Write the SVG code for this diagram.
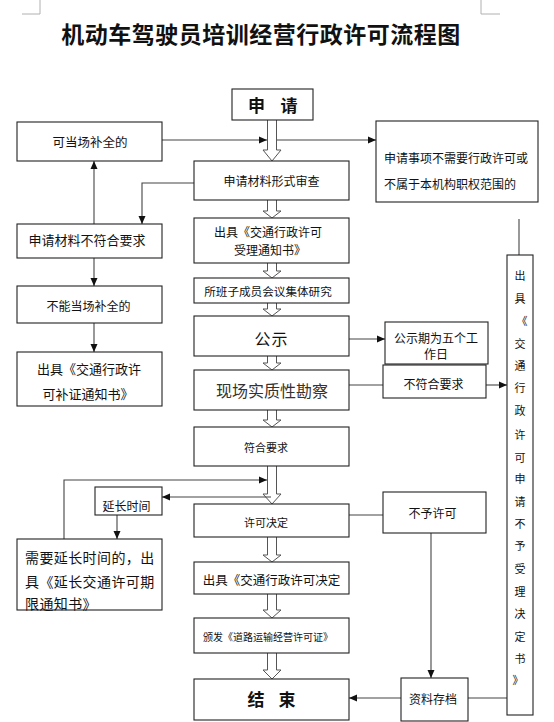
<svg xmlns="http://www.w3.org/2000/svg" width="554" height="722" viewBox="0 0 554 722">
<defs>
<marker id="ah" markerWidth="8" markerHeight="8" refX="8" refY="4" orient="auto" markerUnits="userSpaceOnUse">
<path d="M0,0.5 L8,4 L0,7.5 z" fill="#111"/>
</marker>
<style>
.box{fill:#fff;stroke:#222;stroke-width:1.1}
.t{font-family:"Noto Sans CJK SC","Noto Sans",sans-serif;font-size:12px;fill:#111;text-anchor:middle;dominant-baseline:central}
.tl{text-anchor:start}
.b{font-weight:bold;font-size:17px}
.big{font-size:16px}
.sm{font-size:10px}
.v{font-size:11px}
.ln{fill:none;stroke:#444;stroke-width:1.1}
.ar{marker-end:url(#ah)}
.ha{fill:#fff;stroke:#555;stroke-width:1}
.cm{fill:none;stroke:#b0b0b0;stroke-width:1}
</style>
</defs>
<rect width="554" height="722" fill="#fff"/>
<g id="cornermarks">
<path class="cm" d="M40,0 V14 H22 M481,0 V14 H500"/>
</g>
<text id="title" x="261" y="33" class="t" style="font-size:23px;font-weight:bold;letter-spacing:0.5px">机动车驾驶员培训经营行政许可流程图</text>

<g id="hollow-arrows">
<path class="ha" d="M267.5,120 V150 H263 L272,161 L281,150 H276.5 V120"/>
<path class="ha" d="M267.5,200 V211 H263 L272,218 L281,211 H276.5 V200"/>
<path class="ha" d="M267.5,263 V271 H263 L272,278 L281,271 H276.5 V263"/>
<path class="ha" d="M267.5,303 V309 H263 L272,316 L281,309 H276.5 V303"/>
<path class="ha" d="M267.5,356 V363 H263 L272,370 L281,363 H276.5 V356"/>
<path class="ha" d="M267.5,410 V420 H263 L272,427 L281,420 H276.5 V410"/>
<path class="ha" d="M267.5,466 V494 H263 L272,504 L281,494 H276.5 V466"/>
<path class="ha" d="M267.5,537 V555 H263 L272,562 L281,555 H276.5 V537"/>
<path class="ha" d="M267.5,594 V610 H263 L272,618 L281,610 H276.5 V594"/>
<path class="ha" d="M267.5,653 V670 H263 L272,679 L281,670 H276.5 V653"/>
</g>

<g id="connectors">
<path class="ln ar" d="M162,140 H267"/>
<path class="ln ar" d="M277,140 H376"/>
<path class="ln ar" d="M194,183 H142 V224"/>
<path class="ln ar" d="M94,224 V161"/>
<path class="ln ar" d="M94,258 V286"/>
<path class="ln ar" d="M94,323 V352"/>
<path class="ln ar" d="M349,339 H385"/>
<path class="ln" d="M349,385 H383"/>
<path class="ln ar" d="M486,385 H507"/>
<path class="ln" d="M519,219 V255"/>
<path class="ln ar" d="M64,539 V480 H267"/>
<path class="ln ar" d="M271,497 H162"/>
<path class="ln ar" d="M117,515 V539"/>
<path class="ln" d="M349,515 H383"/>
<path class="ln ar" d="M431,533 V678"/>
<path class="ln ar" d="M401,698 H349"/>
<path class="ln" d="M468,698 H507"/>
</g>

<g id="n-apply"><rect class="box" x="232" y="89" width="81" height="31"/><text class="t b" x="256.5" y="104.5">申</text><text class="t b" x="289" y="104.5">请</text></g>
<g id="n-fill-onsite"><rect class="box" x="17" y="122" width="145" height="39"/><text class="t" x="90" y="141" style="font-size:12.5px">可当场补全的</text></g>
<g id="n-not-needed"><rect class="box" x="376" y="121" width="162" height="81"/><text class="t" x="456" y="157">申请事项不需要行政许可或</text><text class="t" x="450" y="183">不属于本机构职权范围的</text></g>
<g id="n-form-review"><rect class="box" x="194" y="161" width="155" height="39"/><text class="t" x="271.5" y="180">申请材料形式审查</text></g>
<g id="n-accept-notice"><rect class="box" x="194" y="218" width="155" height="45"/><text class="t" x="268" y="231">出具《交通行政许可</text><text class="t" x="270" y="249">受理通知书》</text></g>
<g id="n-study"><rect class="box" x="194" y="278" width="155" height="25"/><text class="t" x="268" y="291" style="font-size:11.6px">所班子成员会议集体研究</text></g>
<g id="n-publicity"><rect class="box" x="194" y="316" width="155" height="40"/><text class="t big" x="271.5" y="338" style="letter-spacing:1px">公示</text></g>
<g id="n-inspect"><rect class="box" x="194" y="370" width="155" height="40"/><text class="t big" x="272" y="390" style="fill:#333">现场实质性勘察</text></g>
<g id="n-meets"><rect class="box" x="194" y="427" width="155" height="39"/><text class="t" x="266" y="447" style="font-size:11px">符合要求</text></g>
<g id="n-decision"><rect class="box" x="194" y="504" width="155" height="33"/><text class="t" x="266" y="522" style="font-size:11px">许可决定</text></g>
<g id="n-decision-doc"><rect class="box" x="194" y="562" width="155" height="32"/><text class="t" x="271.5" y="579" style="font-size:12.5px">出具《交通行政许可决定</text></g>
<g id="n-issue-license"><rect class="box" x="194" y="618" width="155" height="35"/><text class="t sm" x="268" y="636">颁发《道路运输经营许可证》</text></g>
<g id="n-end"><rect class="box" x="194" y="679" width="155" height="41"/><text class="t b" x="256" y="698">结</text><text class="t b" x="287" y="698">束</text></g>

<g id="n-not-meet"><rect class="box" x="17" y="224" width="145" height="34"/><text class="t" x="87" y="239" style="font-size:13px">申请材料不符合要求</text></g>
<g id="n-cannot-fill"><rect class="box" x="17" y="286" width="145" height="37"/><text class="t" x="88.5" y="305">不能当场补全的</text></g>
<g id="n-supplement"><rect class="box" x="17" y="352" width="145" height="54"/><text class="t" x="89" y="368" style="font-size:13px">出具《交通行政许</text><text class="t" x="88" y="393" style="font-size:13px">可补证通知书》</text></g>

<g id="n-period"><rect class="box" x="385" y="322" width="103" height="42"/><text class="t" x="436" y="337">公示期为五个工</text><text class="t" x="436" y="353">作日</text></g>
<g id="n-inspect-fail"><rect class="box" x="383" y="365" width="103" height="33"/><text class="t" x="433.5" y="383">不符合要求</text></g>
<g id="n-deny"><rect class="box" x="383" y="492" width="103" height="41"/><text class="t" x="432.5" y="512">不予许可</text></g>
<g id="n-archive"><rect class="box" x="401" y="678" width="67" height="43"/><text class="t" x="433" y="698">资料存档</text></g>

<g id="n-extend"><rect class="box" x="95" y="487" width="67" height="28"/><text class="t" x="126.5" y="505">延长时间</text></g>
<g id="n-extend-notice"><rect class="box" x="17" y="539" width="145" height="71"/><text class="t tl" x="25" y="557" style="font-size:14px;letter-spacing:0.4px">需要延长时间的，出</text><text class="t tl" x="25" y="581" style="font-size:14px;letter-spacing:0.4px">具《延长交通许可期</text><text class="t tl" x="25" y="603" style="font-size:14px;letter-spacing:0.4px">限通知书》</text></g>

<g id="n-reject-notice"><rect class="box" x="507" y="255" width="26" height="460"/>
<text class="t v" x="520" y="275">出</text>
<text class="t v" x="520" y="298">具</text>
<text class="t v" x="522" y="320">《</text>
<text class="t v" x="520" y="343">交</text>
<text class="t v" x="520" y="365">通</text>
<text class="t v" x="520" y="387">行</text>
<text class="t v" x="520" y="410">政</text>
<text class="t v" x="520" y="434">许</text>
<text class="t v" x="520" y="457">可</text>
<text class="t v" x="520" y="478">申</text>
<text class="t v" x="520" y="501">请</text>
<text class="t v" x="520" y="523">不</text>
<text class="t v" x="520" y="545">予</text>
<text class="t v" x="520" y="568">受</text>
<text class="t v" x="520" y="591">理</text>
<text class="t v" x="520" y="613">决</text>
<text class="t v" x="520" y="636">定</text>
<text class="t v" x="520" y="658">书</text>
<text class="t v" x="518" y="679">》</text>
</g>
</svg>
